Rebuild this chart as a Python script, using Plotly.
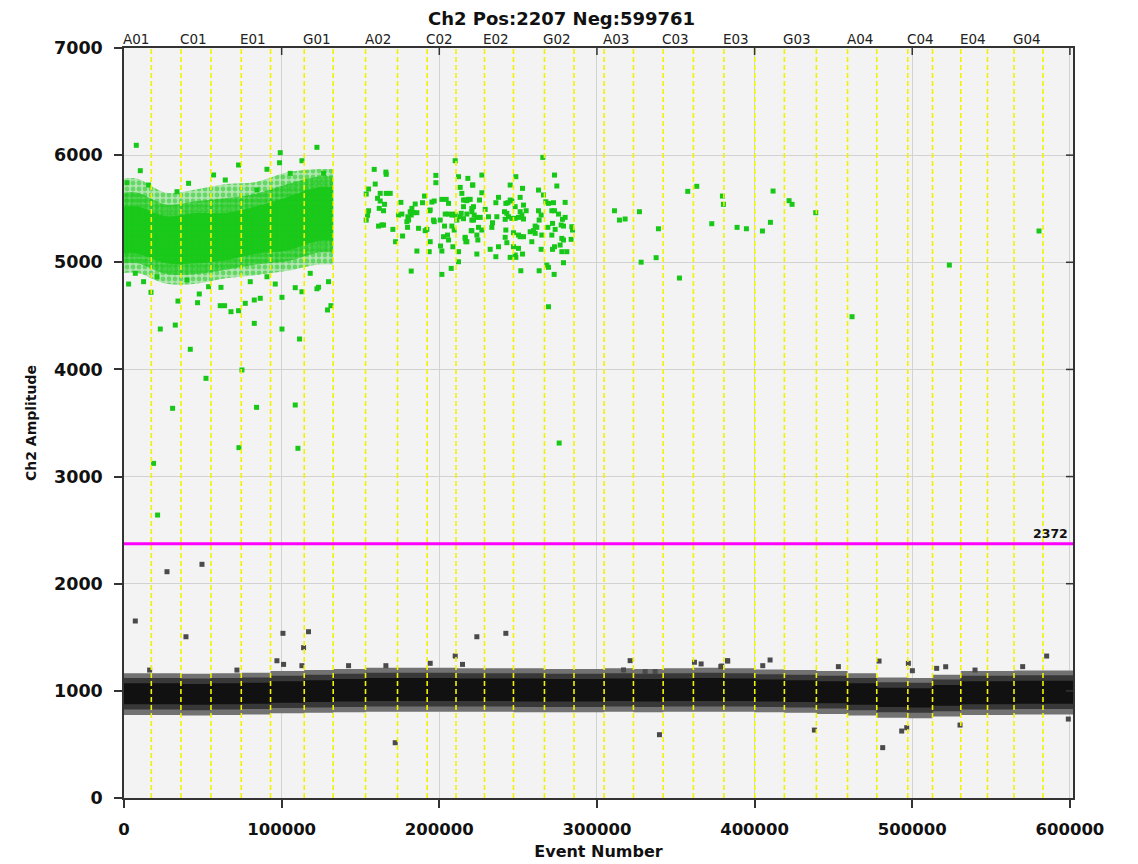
import plotly.graph_objects as go

# ---------------- data ----------------
title_text = "Ch2 Pos:2207 Neg:599761"
threshold = 2372
total_events = 601968

x_tickvals = [0, 100000, 200000, 300000, 400000, 500000, 600000]
x_ticktext = ["0", "100000", "200000", "300000", "400000", "500000", "600000"]
y_tickvals = [0, 1000, 2000, 3000, 4000, 5000, 6000, 7000]

well_names = ["A01", "B01", "C01", "D01", "E01", "F01", "G01", "H01",
              "A02", "B02", "C02", "D02", "E02", "F02", "G02", "H02",
              "A03", "B03", "C03", "D03", "E03", "F03", "G03", "H03",
              "A04", "B04", "C04", "D04", "E04", "F04", "G04", "H04"]
well_starts = [0, 17310, 36110, 55170, 74380, 92960, 114330, 132700,
               153200, 173490, 192300, 210600, 228660, 247040, 266700, 285450,
               304550, 323140, 342000, 361190, 380500, 400100, 418890, 439190,
               458960, 477480, 497200, 512860, 530810, 547740, 564550, 582930]
labeled_wells = ["A01", "C01", "E01", "G01", "A02", "C02", "E02", "G02",
                 "A03", "C03", "E03", "G03", "A04", "C04", "E04", "G04"]

# negative droplet band (per well), amplitude envelopes
neg_outer_lo = [775, 775, 770, 775, 780, 790, 795, 800, 805, 805, 805, 805, 805, 800, 800, 800,
                805, 800, 805, 805, 805, 800, 795, 785, 770, 750, 745, 760, 775, 775, 780, 780]
neg_outer_hi = [1165, 1165, 1160, 1165, 1170, 1185, 1195, 1205, 1215, 1215, 1215, 1210, 1210, 1210, 1205, 1205,
                1210, 1205, 1210, 1215, 1210, 1200, 1195, 1185, 1165, 1125, 1120, 1150, 1185, 1185, 1190, 1190]
neg_mid_lo = [825, 825, 820, 825, 830, 840, 845, 850, 855, 855, 855, 855, 855, 850, 850, 850,
              855, 850, 855, 855, 855, 850, 845, 835, 820, 800, 795, 810, 825, 825, 830, 830]
neg_mid_hi = [1120, 1120, 1115, 1120, 1125, 1140, 1150, 1160, 1170, 1170, 1170, 1165, 1165, 1165, 1160, 1160,
              1165, 1160, 1165, 1170, 1165, 1155, 1150, 1140, 1120, 1080, 1075, 1105, 1140, 1140, 1145, 1145]
neg_core_lo = [875, 875, 870, 875, 880, 890, 895, 900, 905, 905, 905, 905, 905, 900, 900, 900,
               905, 900, 905, 905, 905, 900, 895, 885, 870, 850, 845, 860, 875, 875, 880, 880]
neg_core_hi = [1070, 1070, 1065, 1070, 1075, 1090, 1100, 1110, 1120, 1120, 1120, 1115, 1115, 1115, 1110, 1110,
               1115, 1110, 1115, 1120, 1115, 1105, 1100, 1090, 1070, 1030, 1025, 1055, 1090, 1090, 1095, 1095]

# dense positive cloud in wells A01..G01
cloud_outer_lo = [4900, 4800, 4800, 4850, 4880, 4920, 4980]
cloud_outer_hi = [5780, 5650, 5680, 5730, 5750, 5840, 5870]
cloud_mid_lo = [4990, 4890, 4890, 4930, 4980, 5010, 5090]
cloud_mid_hi = [5650, 5540, 5570, 5600, 5640, 5730, 5800]
cloud_core_lo = [5080, 4990, 4990, 5020, 5080, 5110, 5200]
cloud_core_hi = [5520, 5430, 5460, 5460, 5520, 5610, 5700]

# individually visible positive droplets [event, amplitude]
pos_fringe = [
    [7800, 6092], [10340, 5855], [72670, 5908], [90680, 5868], [98670, 5929], [99110, 6023],
    [112870, 5948], [122380, 6073], [23020, 4377], [32530, 4414], [42040, 4188], [34240, 4638],
    [46670, 4623], [47750, 4704], [61060, 4595], [63790, 4595], [67850, 4539], [72670, 4548],
    [76920, 4617], [82630, 4430], [82630, 4648], [86430, 4664], [100190, 4673], [100190, 4377],
    [111350, 4284], [108620, 4763], [112870, 4725], [122380, 4753], [123400, 4767], [129100, 4555],
    [131260, 4595], [17120, 4720], [2920, 4797], [12430, 4819], [53650, 4772], [61510, 4766],
    [95940, 4797], [52000, 3917], [30820, 3637], [18770, 3123], [21310, 2641], [74820, 3995],
    [84080, 3646], [108620, 3668], [72920, 3270], [110330, 3264], [56820, 5815], [64240, 5768],
    [40960, 5737], [15600, 5721], [84330, 5675], [105450, 5830], [126570, 5830], [33610, 5659],
    [1900, 5743], [7170, 4897], [20930, 4865], [39950, 4834], [80090, 4819], [90680, 4865],
    [118130, 4897], [129740, 4819],
]
pos_sparse = [
    [158720, 5867], [166120, 5842], [166330, 5821], [159350, 5730], [155130, 5684], [153650, 5637],
    [162520, 5643], [166330, 5643], [168860, 5643], [160830, 5597], [162520, 5572], [165270, 5541],
    [161890, 5503], [164640, 5481], [155130, 5481], [154490, 5438], [153650, 5394], [161470, 5338],
    [163580, 5348], [164640, 5348], [170560, 5307], [172250, 5192], [175630, 5559], [174150, 5441],
    [176260, 5450], [180070, 5425], [181550, 5472], [182610, 5503], [183660, 5463], [184720, 5544],
    [185780, 5463], [182180, 5441], [179430, 5379], [180490, 5394], [179860, 5326], [176690, 5245],
    [186830, 5317], [189370, 5556], [190640, 5618], [191060, 5295], [192120, 5307], [185780, 5105],
    [182180, 4918], [194230, 5488], [195290, 5562], [196770, 5572], [193810, 5481], [197820, 5811],
    [197820, 5743], [196340, 5394], [196770, 5379], [200570, 5394], [194230, 5192], [193600, 5099],
    [201630, 5587], [204380, 5587], [205860, 5550], [203740, 5450], [205860, 5450], [207970, 5441],
    [209030, 5450], [203320, 5338], [207970, 5338], [209450, 5301], [202690, 5239], [205220, 5254],
    [205860, 5208], [200780, 5152], [201630, 5105], [201630, 4887], [208600, 5145], [207550, 4943],
    [210080, 5948], [212200, 5799], [213250, 5699], [214310, 5643], [212200, 5099], [212200, 5005],
    [215370, 5581], [216420, 5581], [217480, 5575], [218540, 5587], [215370, 5519], [213890, 5457],
    [213250, 5425], [215370, 5407], [217480, 5450], [220650, 5503], [220650, 5394], [221070, 5721],
    [220230, 5295], [216420, 5233], [216850, 5192], [210080, 5441], [211140, 5394],
    [218110, 5783], [221280, 5721], [226990, 5814], [226990, 5649], [219590, 5587], [225510, 5581],
    [221700, 5519], [220650, 5472], [222130, 5441], [223820, 5419], [225930, 5419], [221700, 5394],
    [224870, 5326], [226990, 5301], [220650, 5295], [223820, 5254], [224450, 5208], [216420, 5223],
    [217480, 5192], [223820, 5077], [229100, 5494], [231220, 5425], [233750, 5369], [233330, 5326],
    [235870, 5556], [237560, 5606], [236500, 5425], [232270, 5121], [235870, 5052], [237560, 5145],
    [242210, 5550], [243480, 5556], [244960, 5581], [246010, 5572], [241360, 5472], [242840, 5457],
    [243900, 5425], [246010, 5410], [248130, 5410], [250240, 5419], [252350, 5441], [251300, 5472],
    [255100, 5481], [241780, 5401], [244960, 5721], [248550, 5799], [252780, 5690], [251300, 5606],
    [248130, 5519], [253410, 5534], [242210, 5301], [241780, 5233], [242840, 5183], [247070, 5276],
    [250240, 5254], [251300, 5239], [253410, 5239], [247070, 5145], [250240, 5130], [244960, 5046],
    [248130, 5068], [248550, 5046], [252780, 5077], [251720, 4921], [257640, 5285], [259750, 5295],
    [260810, 5270], [261860, 5326], [263340, 5394], [265030, 5254], [258690, 5192], [260810, 5338],
    [264610, 5441], [262920, 5481], [262920, 5674], [265670, 5979], [266090, 5628], [267570, 5565],
    [269260, 5550], [272430, 5556], [271380, 5481], [273070, 5481], [275600, 5450], [268840, 5326],
    [271800, 5363], [273490, 5307], [278140, 5401], [279830, 5419], [277290, 5348], [278770, 5338],
    [277710, 5223], [278770, 5208], [284060, 5332], [284480, 5301], [283630, 5214], [279830, 5559],
    [273070, 5814], [274550, 5712], [271380, 5254], [273070, 5145], [271800, 5121], [276660, 5161],
    [277710, 5099], [280890, 5099], [278770, 4996], [264610, 5121], [268200, 4974], [269260, 4953],
    [263340, 4921], [272850, 4887], [269260, 4585], [253410, 5404], [276030, 3313],
]
pos_scattered = [
    [311110, 5481], [314280, 5394], [317870, 5404], [326960, 5472], [339010, 5313], [328020, 5001],
    [337530, 5043], [352330, 4853], [357610, 5662], [363320, 5709], [372830, 5360], [379590, 5618],
    [380230, 5541], [388890, 5326], [394810, 5313], [404960, 5292], [410030, 5373], [411720, 5665],
    [421870, 5575], [423770, 5541], [438780, 5463], [461820, 4492], [523540, 4974], [580400, 5292],
]
# individually visible negative outliers [event, amplitude]
neg_outliers = [
    [27270, 2112], [49460, 2181], [7170, 1652], [39310, 1505], [100820, 1537], [117050, 1552],
    [113900, 1403], [97000, 1281], [101220, 1247], [112850, 1235], [142440, 1235], [166120, 1235],
    [223820, 1505], [242210, 1537], [210080, 1325], [214730, 1247], [194230, 1257], [172030, 516],
    [71630, 1194], [16255, 1194], [321050, 1282], [339650, 591], [361850, 1267], [366080, 1251],
    [378550, 1226], [382770, 1282], [316830, 1195], [330570, 1179], [336910, 1179], [382970, 1278],
    [409820, 1288], [405170, 1235], [453150, 1226], [478940, 1278], [497540, 1257], [500080, 1188],
    [515500, 1210], [521210, 1225], [539810, 1194], [570040, 1226], [585260, 1325], [437930, 634],
    [481260, 470], [493310, 625], [496480, 656], [530300, 681], [598990, 737], [379170, 1232],
]

# ---------------- styling ----------------
FONT = "DejaVu Sans"
GREEN = "#18c818"
PAGE_OFFSET = 8  # default body margin of the html page
W, H = 1138, 864
M_L, M_R, M_T, M_B = 124 - PAGE_OFFSET, 65 + PAGE_OFFSET, 48 - PAGE_OFFSET, 66 + PAGE_OFFSET
PLOT_W, PLOT_H = W - M_L - M_R, H - M_T - M_B
fig = go.Figure()


def step_band(starts, end, lo, hi, color):
    xs = list(starts) + [end]
    fig.add_trace(go.Scatter(x=xs, y=list(lo) + [lo[-1]], mode="lines", line_shape="hv",
                             line=dict(width=0, color=color), hoverinfo="skip", showlegend=False))
    fig.add_trace(go.Scatter(x=xs, y=list(hi) + [hi[-1]], mode="lines", line_shape="hv",
                             line=dict(width=0, color=color), fill="tonexty", fillcolor=color,
                             hoverinfo="skip", showlegend=False))


def cloud_band(starts, end, lo, hi, fillcolor=None, pattern=None):
    bounds = list(starts) + [end]
    mids = [(bounds[i] + bounds[i + 1]) / 2 for i in range(len(starts))]
    xs = [bounds[0]] + mids + [bounds[-1]]
    fig.add_trace(go.Scatter(x=xs, y=[lo[0]] + list(lo) + [lo[-1]], mode="lines", line_shape="spline",
                             line=dict(width=0), hoverinfo="skip", showlegend=False))
    kw = dict(fill="tonexty")
    if pattern is not None:
        kw["fillpattern"] = pattern
    else:
        kw["fillcolor"] = fillcolor
    fig.add_trace(go.Scatter(x=xs, y=[hi[0]] + list(hi) + [hi[-1]], mode="lines", line_shape="spline",
                             line=dict(width=0), hoverinfo="skip", showlegend=False, **kw))


# negative band
step_band(well_starts, total_events, neg_outer_lo, neg_outer_hi, "#727272")
step_band(well_starts, total_events, neg_mid_lo, neg_mid_hi, "#383838")
step_band(well_starts, total_events, neg_core_lo, neg_core_hi, "#111111")

# positive dense cloud
n_cloud = len(cloud_core_lo)
c_end = well_starts[n_cloud]
cloud_band(well_starts[:n_cloud], c_end, cloud_outer_lo, cloud_outer_hi,
           pattern=dict(shape=".", fgcolor=GREEN, bgcolor="rgba(24,200,24,0.30)", size=6, solidity=0.5))
cloud_band(well_starts[:n_cloud], c_end, cloud_mid_lo, cloud_mid_hi,
           pattern=dict(shape=".", fgcolor=GREEN, bgcolor="rgba(24,200,24,0.55)", size=5, solidity=0.6))
cloud_band(well_starts[:n_cloud], c_end, cloud_core_lo, cloud_core_hi, fillcolor="rgba(24,200,24,0.95)")

pos_all = pos_fringe + pos_sparse + pos_scattered
fig.add_trace(go.Scatter(x=[p[0] for p in pos_all], y=[p[1] for p in pos_all], mode="markers",
                         marker=dict(symbol="square", size=5, color=GREEN, line=dict(width=0)),
                         showlegend=False, hoverinfo="skip"))
fig.add_trace(go.Scatter(x=[p[0] for p in neg_outliers], y=[p[1] for p in neg_outliers], mode="markers",
                         marker=dict(symbol="square", size=5, color="#4a4a4a", line=dict(width=0)),
                         showlegend=False, hoverinfo="skip"))

# well boundaries (yellow dashed)
shapes = []
for s in well_starts[1:]:
    shapes.append(dict(type="line", xref="x", yref="paper", x0=s, x1=s, y0=0, y1=1, layer="above",
                       line=dict(color="#f2f200", width=1.6, dash="5px,3px")))
# threshold
shapes.append(dict(type="line", xref="paper", yref="y", x0=0, x1=1, y0=threshold, y1=threshold,
                   layer="above", line=dict(color="#ff00ff", width=3)))
# inward ticks on the top and right frame
TICK = 7
for v in x_tickvals[1:]:
    shapes.append(dict(type="line", xref="x", yref="paper", x0=v, x1=v, y0=1, y1=1 - TICK / PLOT_H,
                       layer="above", line=dict(color="#333", width=1.5)))
for v in y_tickvals[1:-1]:
    shapes.append(dict(type="line", xref="paper", yref="y", x0=1, x1=1 - TICK / PLOT_W, y0=v, y1=v,
                       layer="above", line=dict(color="#333", width=1.5)))
fig.update_layout(shapes=shapes)

annotations = []
for name, s in zip(well_names, well_starts):
    if name in labeled_wells:
        annotations.append(dict(x=s, y=1, xref="x", yref="paper", text=name, showarrow=False,
                                xanchor="left", yanchor="bottom", xshift=-3, yshift=-1,
                                font=dict(family=FONT, size=13.5, color="#222")))
annotations.append(dict(x=1, y=threshold, xref="paper", yref="y", text=str(threshold), showarrow=False,
                        xanchor="right", yanchor="bottom", xshift=-3, yshift=1,
                        font=dict(family=FONT, size=12.5, color="#111", weight="bold")))
fig.update_layout(annotations=annotations)

fig.update_layout(
    width=W, height=H,
    margin=dict(l=M_L, r=M_R, t=M_T, b=M_B),
    paper_bgcolor="white", plot_bgcolor="#f3f3f3",
    title=dict(text=title_text, x=(561.5 - PAGE_OFFSET) / W, xref="container", xanchor="center",
               y=1 - (19 - PAGE_OFFSET) / H, yref="container", yanchor="middle",
               font=dict(family=FONT, size=18, color="#111", weight="bold")),
    font=dict(family=FONT),
)
fig.update_xaxes(range=[0, total_events], tickvals=x_tickvals, ticktext=x_ticktext,
                 showgrid=True, gridcolor="#d2d2d2", gridwidth=1, zeroline=False,
                 showline=True, linecolor="#333", linewidth=1.5, mirror=True,
                 ticks="outside", ticklen=8, tickcolor="#333", tickwidth=1.5, ticklabelstandoff=7,
                 tickfont=dict(family=FONT, size=16.5, color="#111", weight="bold"),
                 title=dict(text="Event Number", standoff=8,
                            font=dict(family=FONT, size=16, color="#111", weight="bold")))
fig.update_yaxes(range=[0, 7000], tickvals=y_tickvals,
                 showgrid=True, gridcolor="#d2d2d2", gridwidth=1, zeroline=False,
                 showline=True, linecolor="#333", linewidth=1.5, mirror=True,
                 ticks="outside", ticklen=8, tickcolor="#333", tickwidth=1.5, ticklabelstandoff=8,
                 tickfont=dict(family=FONT, size=17.5, color="#111", weight="bold"),
                 title=dict(text="Ch2 Amplitude", standoff=14,
                            font=dict(family=FONT, size=14, color="#111", weight="bold")))

fig.write_html("out.html")
